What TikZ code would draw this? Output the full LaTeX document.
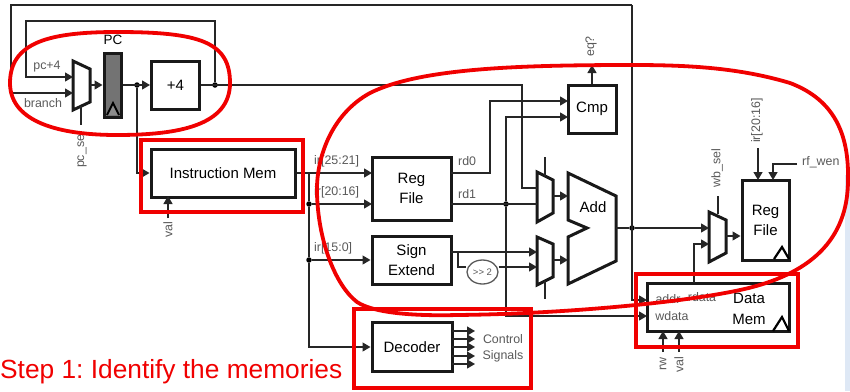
\documentclass[tikz,border=0pt]{standalone}
\usepackage{fontspec}
\setmainfont{Liberation Sans}
\usetikzlibrary{arrows.meta,shapes.geometric}
\definecolor{markred}{RGB}{240,0,0}
\definecolor{edgeblue}{RGB}{222,232,245}
\tikzset{
	wire/.style={line width=1.3pt,black!85},
	feed/.style={wire,-{Triangle[length=8pt,width=9pt]}},
	unit/.style={draw,line width=3pt,black!90,text=black,inner sep=0pt,align=center,font=\fontsize{15}{20}\selectfont},
	part/.style={draw,line width=3pt,black!90},
	dot/.style={circle,fill=black,inner sep=0pt,minimum size=5.5pt},
	tag/.style={black!65,inner sep=0pt,font=\fontsize{12.4}{17}\selectfont},
	ring/.style={draw=markred,line width=3.8pt},
}
\begin{document}
\begin{tikzpicture}[x=1pt,y=-1pt]
			\clip (0,0) rectangle (850,391);
			\fill[edgeblue] (845,175) rectangle (850,391);
			
			% boxes
			\node[unit,minimum width=48pt,minimum height=48pt] (plusfour) at (175.5,85) {+4};
			\node[unit,minimum width=144pt,minimum height=48pt] (imem) at (223,173) {Instruction Mem};
			\node[unit,minimum width=79pt,minimum height=63pt] (regfile) at (411.5,188.5) {Reg\\File};
			\node[unit,minimum width=79pt,minimum height=48pt] (signext) at (411.5,260) {Sign\\Extend};
			\node[unit,minimum width=80pt,minimum height=49pt] (decoder) at (412,347) {Decoder};
			\node[unit,minimum width=48pt,minimum height=48pt] (cmp) at (592,109) {Cmp};
			\node[unit,minimum width=47pt,minimum height=80pt] (wbfile) at (765.5,220) {Reg\\File};
			\node[part,minimum width=142pt,minimum height=48pt] (dmem) at (718,307) {};
			\node[draw,line width=1.3pt,ellipse,minimum width=31pt,minimum height=24pt,inner sep=0pt,black!65,font=\fontsize{9.5}{11}\selectfont] (shift) at (482.5,272) {{>}{>} 2};
			\node[part,fill=black!55,minimum width=17pt,minimum height=64pt] (pc) at (112.5,85) {};
			\draw[line width=2pt,fill=black!45] (107,115) -- (113,103) -- (119,115);
			
			% muxes and adder
			\draw[part,fill=white] (73,61) -- (90,69) -- (90,102) -- (73,110) -- cycle;
			\draw[part,fill=white] (537,172) -- (553,180) -- (553,213) -- (537,222) -- cycle;
			\draw[part,fill=white] (537,237) -- (553,244) -- (553,277) -- (537,285) -- cycle;
			\draw[part,fill=white] (709,212) -- (726,220) -- (726,253) -- (709,262) -- cycle;
			\draw[part,fill=white] (568,173) -- (616,196) -- (616,261) -- (568,284) -- (568,237) -- (587,228) -- (568,220) -- cycle;
			\node[black,inner sep=0pt,font=\fontsize{15}{17}\selectfont] (addlabel) at (593,207) {Add};
			
			% clock marks
			\draw[line width=2.2pt] (774,259) -- (782,247) -- (789,259);
			\draw[line width=2.2pt] (773,331) -- (782,317) -- (789,331);
			
			% junctions
			\node[dot] (npc) at (137,85) {};
			\node[dot] (nplus) at (215,85) {};
			\node[dot] (nrs) at (309,204) {};
			\node[dot] (nimm) at (309,260) {};
			\node[dot] (nrd) at (506,204) {};
			\node[dot] (nalu) at (632,228) {};
			
			% ports
			\coordinate (muxa) at (73,77);
			\coordinate (muxb) at (73,93);
			\coordinate (muxo) at (90,85);
			\coordinate (topleft) at (11,5);
			\coordinate (topright) at (632,5);
			\coordinate (loopleft) at (26,21);
			\coordinate (aluina) at (537,188);
			\coordinate (aluinb) at (537,204);
			\coordinate (aluoa) at (553,196);
			\coordinate (aluia) at (568,196);
			\coordinate (aluic) at (537,252);
			\coordinate (aluid) at (537,267);
			\coordinate (aluob) at (553,260);
			\coordinate (aluib) at (568,260);
			\coordinate (wba) at (709,228);
			\coordinate (wbb) at (709,244);
			\coordinate (wbo) at (726,236);
			
			% next pc loop
			\draw[feed] (topright) -- (topleft) -- (11,93) -- (muxb);
			\draw[feed] (nplus) -- (215,21) -- (loopleft) -- (26,77) -- (muxa);
			\draw[feed] (muxo) -- (pc.west |- muxo);
			\draw[feed] (pc.east) -- (plusfour.west);
			\draw[wire] (plusfour.east) -- (522,85) -- (522,188) -- (aluina);
			\draw[feed] (npc) -- (137,173) -- (imem.west);
			
			% decode wires
			\draw[feed] (imem.east) -- (372,173);
			\draw[feed] (309,173) -- (nrs) -- (372,204);
			\draw[feed] (nrs) -- (nimm) -- (signext.west);
			\draw[feed] (nimm) -- (309,347) -- (decoder.west);
			\draw[feed] (451,173) -- (490,173) -- (490,101) -- (568,101);
			\draw[wire] (451,204) -- (aluinb);
			\draw[feed] (nrd) -- (506,117) -- (568,117);
			\draw[feed] (nrd) -- (506,316) -- (647,316);
			
			% execute wires
			\draw[feed] (aluoa) -- (aluia);
			\draw[feed] (aluob) -- (aluib);
			\draw[feed] (451,252) -- (aluic);
			\draw[wire] (458,252) -- (458,267) -- (shift.west |- 0,267);
			\draw[feed] (shift.east |- 0,267) -- (aluid);
			\draw[wire] (545,157) -- (545,176);
			\draw[wire] (545,281) -- (545,299);
			\draw[feed] (cmp.north) -- (592,65);
			
			% write back wires
			\draw[wire] (616,228) -- (nalu);
			\draw[feed] (nalu) -- (wba);
			\draw[feed] (topright) -- (632,300) -- (647,300);
			\draw[feed] (694,283) -- (694,244) -- (wbb);
			\draw[feed] (wbo) -- (wbfile.west |- wbo);
			\draw[wire] (718,196) -- (718,214);
			\draw[wire] (81,106) -- (81,125);
			
			% control arrows
			\draw[feed] (168,218) -- (168,196);
			\draw[feed] (758,148) -- (758,180);
			\draw[feed] (797,164) -- (773,164) -- (773,180);
			\draw[feed] (663,352) -- (663,331);
			\draw[feed] (679,352) -- (679,331);
			\foreach \y in {331,339,347,356,364}
			\draw[feed] (452,\y) -- (475,\y);
			
			% labels
			\node[black,inner sep=0pt,font=\fontsize{13.5}{15}\selectfont] (pclabel) at (113,40) {PC};
			\node[tag] (tpc) at (47,67) {pc+4};
			\node[tag] (tbranch) at (43,103) {branch};
			\node[tag,rotate=90] (tsel) at (81,150) {pc\_sel};
			\node[tag,rotate=90] (tval) at (168,230) {val};
			\node[tag,anchor=west] (tira) at (314,161) {ir[25:21]};
			\node[tag,anchor=west] (tirb) at (314,192) {ir[20:16]};
			\node[tag,anchor=west] (tirc) at (314,248) {ir[15:0]};
			\node[tag,anchor=west] (trd) at (458,161) {rd0};
			\node[tag,anchor=west] (trdb) at (458,194) {rd1};
			\node[tag,rotate=90] (teq) at (591,46.5) {eq?};
			\node[tag,rotate=90] (twb) at (717,168) {wb\_sel};
			\node[tag,rotate=90] (tir) at (757,120.5) {ir[20:16]};
			\node[tag,anchor=west] (twen) at (802,162) {rf\_wen};
			\node[tag] (taddr) at (668,299) {addr};
			\node[tag] (trdata) at (702,297) {rdata};
			\node[tag] (twdata) at (672,316) {wdata};
			\node[black,inner sep=0pt,font=\fontsize{15}{17}\selectfont] (tdata) at (749,298) {Data};
			\node[black,inner sep=0pt,font=\fontsize{15}{17}\selectfont] (tmem) at (749,319) {Mem};
			\node[tag] (tctrl) at (503,339) {Control};
			\node[tag] (tsig) at (503,356) {Signals};
			\node[tag,rotate=90] (trw) at (663,364) {rw};
			\node[tag,rotate=90] (tvalb) at (679,365) {val};
			
			% red markings
			\draw[ring] (141,140) rectangle (303,212);
			\draw[ring] (354,309) rectangle (531,388);
			\draw[ring] (636,274) rectangle (798,347);
			\draw[ring] (10,83) .. controls (10,42) and (50,32) .. (117,32) .. controls (200,32) and (230,42) .. (230,83) .. controls (230,125) and (180,135) .. (117,135) .. controls (50,135) and (10,118) .. (10,83) -- cycle;
			\draw[ring] (848,180) .. controls (849,135) and (835,100) .. (790,83) .. controls (740,68) and (690,65) .. (633,65) .. controls (520,65) and (420,68) .. (370,93) .. controls (330,115) and (316,160) .. (317,193) .. controls (318,240) and (335,285) .. (357,302) .. controls (375,314) and (420,316) .. (457,315) .. controls (560,314) and (680,303) .. (740,290) .. controls (810,275) and (848,240) .. (848,180) -- cycle;
			\node[markred,anchor=west,inner sep=0pt,font=\fontsize{26.3}{28}\selectfont\frenchspacing] (stepone) at (0,372) {Step 1: Identify the memories};
\end{tikzpicture}
\end{document}
